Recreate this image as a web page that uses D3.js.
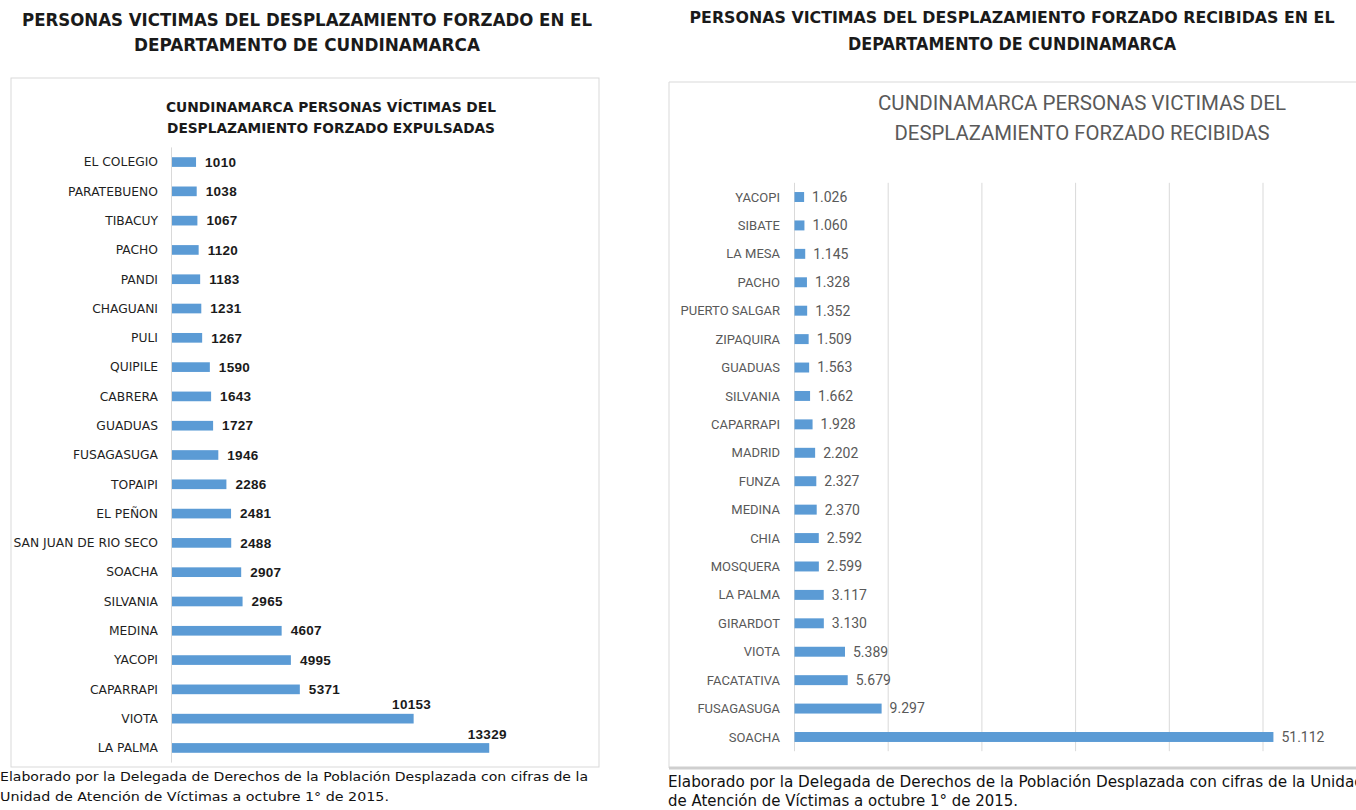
<!DOCTYPE html>
<html><head><meta charset="utf-8">
<script src="https://cdn.jsdelivr.net/npm/d3@7"></script>
<style>body{margin:0;background:#fff}svg{display:block}</style>
</head><body>
<svg id="c" width="1356" height="810"></svg>
<script>
const expCategories = ["EL COLEGIO","PARATEBUENO","TIBACUY","PACHO","PANDI","CHAGUANI","PULI","QUIPILE","CABRERA","GUADUAS","FUSAGASUGA","TOPAIPI","EL PEÑON","SAN JUAN DE RIO SECO","SOACHA","SILVANIA","MEDINA","YACOPI","CAPARRAPI","VIOTA","LA PALMA"];
const expValues = [1010,1038,1067,1120,1183,1231,1267,1590,1643,1727,1946,2286,2481,2488,2907,2965,4607,4995,5371,10153,13329];
const recCategories = ["YACOPI","SIBATE","LA MESA","PACHO","PUERTO SALGAR","ZIPAQUIRA","GUADUAS","SILVANIA","CAPARRAPI","MADRID","FUNZA","MEDINA","CHIA","MOSQUERA","LA PALMA","GIRARDOT","VIOTA","FACATATIVA","FUSAGASUGA","SOACHA"];
const recValues = [1026,1060,1145,1328,1352,1509,1563,1662,1928,2202,2327,2370,2592,2599,3117,3130,5389,5679,9297,51112];
const recTicks = [0,10000,20000,30000,40000,50000,60000];
const headerLeft = ["PERSONAS VICTIMAS DEL DESPLAZAMIENTO FORZADO EN EL","DEPARTAMENTO DE CUNDINAMARCA"];
const headerRight = ["PERSONAS VICTIMAS DEL DESPLAZAMIENTO FORZADO RECIBIDAS EN EL","DEPARTAMENTO DE CUNDINAMARCA"];
const titleLeft = ["CUNDINAMARCA PERSONAS VÍCTIMAS DEL","DESPLAZAMIENTO FORZADO EXPULSADAS"];
const titleRight = ["CUNDINAMARCA PERSONAS  VICTIMAS DEL","DESPLAZAMIENTO FORZADO RECIBIDAS"];
const noteLeft = ["Elaborado por la Delegada de Derechos de la Población Desplazada con cifras de la","Unidad de Atención de Víctimas  a octubre 1° de 2015."];
const noteRight = ["Elaborado por la Delegada de Derechos de la Población Desplazada con cifras de la Unidad","de Atención de Víctimas  a octubre 1° de 2015."];

const svg = d3.select("#c");
const BAR = "#5b9bd5";

function txt(g, s, x, y, opts) {
  const t = g.append("text").attr("x", x).attr("y", y).attr("dy","0.35em").text(s)
    .attr("text-anchor", opts.anchor || "middle")
    .attr("font-family", opts.family).attr("font-size", opts.size)
    .attr("font-weight", opts.weight || "normal").attr("fill", opts.fill || "#222");
  if (opts.len) t.attr("textLength", opts.len).attr("lengthAdjust","spacingAndGlyphs");
  return t;
}

// ---------- LEFT PANEL ----------
const L = svg.append("g");
txt(L, headerLeft[0], 307, 20, {family:"DejaVu Sans", size:17, weight:"bold", fill:"#1a1a1a", len:570});
txt(L, headerLeft[1], 307, 45, {family:"DejaVu Sans", size:17, weight:"bold", fill:"#1a1a1a", len:346});
L.append("rect").attr("x",11).attr("y",78).attr("width",588).attr("height",689)
  .attr("fill","none").attr("stroke","#d9d9d9").attr("stroke-width",1);
txt(L, titleLeft[0], 331, 107, {family:"DejaVu Sans", size:14, weight:"bold", fill:"#1a1a1a", len:330});
txt(L, titleLeft[1], 331, 128, {family:"DejaVu Sans", size:14, weight:"bold", fill:"#1a1a1a", len:328});

const xL = d3.scaleLinear().domain([0,14000]).range([172, 505.2]);
const yL = d3.scaleBand().domain(expCategories).range([147.4, 762.6]).paddingInner(0.67).paddingOuter(0.335);
L.append("line").attr("x1",171.5).attr("x2",171.5).attr("y1",147.4).attr("y2",762.6).attr("stroke","#d9d9d9");
const dataL = expCategories.map((c,i)=>({c, v:expValues[i]}));
L.selectAll("rect.bar").data(dataL).join("rect").attr("class","bar")
  .attr("x", xL(0)).attr("y", d=>yL(d.c)).attr("width", d=>xL(d.v)-xL(0)).attr("height", yL.bandwidth()).attr("fill", BAR);
L.selectAll("text.cat").data(dataL).join("text").attr("class","cat")
  .attr("x",158).attr("y", d=>yL(d.c)+yL.bandwidth()/2).attr("dy","0.35em").attr("text-anchor","end")
  .attr("font-family","DejaVu Sans").attr("font-size",12.3).attr("fill","#1f1f1f").text(d=>d.c);
L.selectAll("text.val").data(dataL).join("text").attr("class","val")
  .attr("x", d=> d.v>10000 ? xL(d.v)-2 : xL(d.v)+9)
  .attr("y", d=> yL(d.c)+yL.bandwidth()/2 - (d.v>10000 ? 14 : 0))
  .attr("dy","0.35em").attr("text-anchor", d=> d.v>10000 ? "middle" : "start")
  .attr("font-family","Liberation Sans").attr("font-size",13.5).attr("font-weight","bold")
  .attr("letter-spacing","0.3px").attr("fill","#1a1a1a").text(d=>d.v);
txt(L, noteLeft[0], 0, 776, {family:"DejaVu Sans", size:13, anchor:"start", fill:"#111", len:588});
txt(L, noteLeft[1], 0, 796, {family:"DejaVu Sans", size:13, anchor:"start", fill:"#111", len:389});

// ---------- RIGHT PANEL ----------
const R = svg.append("g");
txt(R, headerRight[0], 1012, 18, {family:"DejaVu Sans", size:15.5, weight:"bold", fill:"#1a1a1a", len:645});
txt(R, headerRight[1], 1012, 44, {family:"DejaVu Sans", size:17, weight:"bold", fill:"#1a1a1a", len:328});
R.append("line").attr("x1",669).attr("x2",1356).attr("y1",82).attr("y2",82).attr("stroke","#d9d9d9");
R.append("line").attr("x1",669).attr("x2",669).attr("y1",82).attr("y2",768).attr("stroke","#d9d9d9");
R.append("line").attr("x1",669).attr("x2",1356).attr("y1",768).attr("y2",768).attr("stroke","#cfcfcf").attr("stroke-width",3);
txt(R, titleRight[0], 1082, 103, {family:"Roboto", size:20, fill:"#595959", len:408});
txt(R, titleRight[1], 1082, 133, {family:"Roboto", size:20, fill:"#595959", len:375});

const xR = d3.scaleLinear().domain([0,60000]).range([794.5, 1356.7]);
const yR = d3.scaleBand().domain(recCategories).range([182.8, 751.2]).paddingInner(0.65).paddingOuter(0.325);
R.append("g").selectAll("line").data(recTicks).join("line")
  .attr("x1", d=>xR(d)).attr("x2", d=>xR(d)).attr("y1",182.8).attr("y2",751.2).attr("stroke","#d9d9d9");
const dataR = recCategories.map((c,i)=>({c, v:recValues[i]}));
const fmt = d3.formatLocale({decimal:",", thousands:".", grouping:[3], currency:["$",""]}).format(",");
R.selectAll("rect.bar").data(dataR).join("rect").attr("class","bar")
  .attr("x", xR(0)).attr("y", d=>yR(d.c)).attr("width", d=>xR(d.v)-xR(0)).attr("height", yR.bandwidth()).attr("fill", BAR);
R.selectAll("text.cat").data(dataR).join("text").attr("class","cat")
  .attr("x",780).attr("y", d=>yR(d.c)+yR.bandwidth()/2).attr("dy","0.35em").attr("text-anchor","end")
  .attr("font-family","Roboto").attr("font-size",13).attr("fill","#595959").text(d=>d.c);
R.selectAll("text.val").data(dataR).join("text").attr("class","val")
  .attr("x", d=>xR(d.v)+8).attr("y", d=>yR(d.c)+yR.bandwidth()/2).attr("dy","0.35em")
  .attr("font-family","Roboto").attr("font-size",14).attr("fill","#595959").text(d=>fmt(d.v));
txt(R, noteRight[0], 668, 782, {family:"DejaVu Sans", size:15, anchor:"start", fill:"#111", len:696});
txt(R, noteRight[1], 668, 801, {family:"DejaVu Sans", size:15, anchor:"start", fill:"#111", len:350});
</script>
</body></html>
